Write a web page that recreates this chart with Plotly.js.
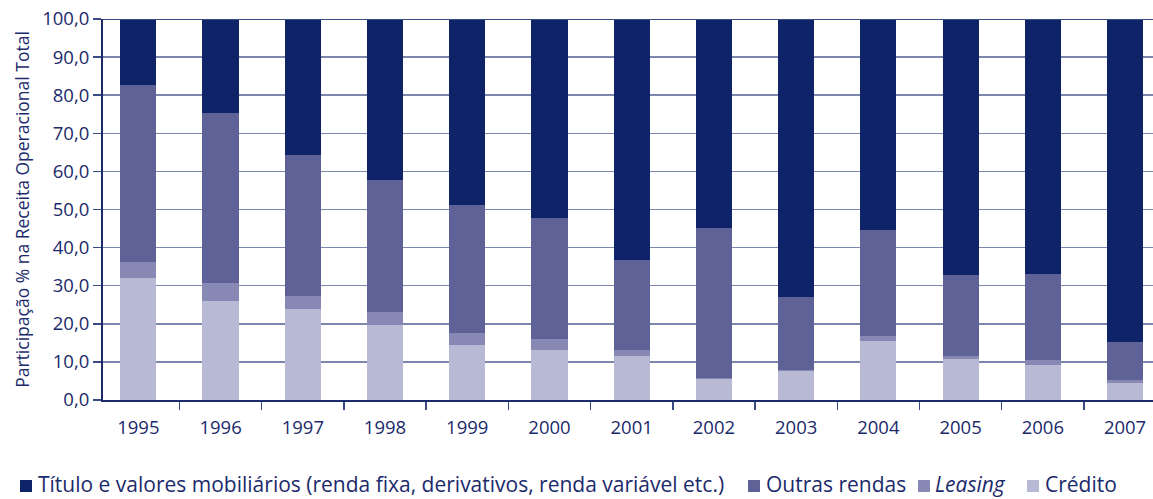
<!DOCTYPE html>
<html>
<head>
<meta charset="utf-8">
<script src="https://cdn.plot.ly/plotly-3.0.1.min.js"></script>
<style>html,body{margin:0;padding:0;background:#fff;}#chart{width:1153px;height:499px;}</style>
</head>
<body>
<div id="chart"></div>
<script>
const years = ['1995','1996','1997','1998','1999','2000','2001','2002','2003','2004','2005','2006','2007'];
const credito = [32.1, 26.1, 24.0, 19.7, 14.4, 13.1, 11.6, 5.4, 7.7, 15.6, 10.8, 9.3, 4.5];
const leasing = [4.0, 4.7, 3.4, 3.4, 3.3, 2.9, 1.5, 0.3, 0.3, 1.3, 0.8, 1.2, 0.8];
const outras = [46.6, 44.6, 37.0, 34.7, 33.5, 31.8, 23.7, 39.5, 19.1, 27.6, 21.2, 22.6, 9.9];
const titulos = [17.3, 24.6, 35.6, 42.2, 48.8, 52.2, 63.2, 54.8, 72.9, 55.5, 67.2, 66.9, 84.8];
const yTicks = [0,10,20,30,40,50,60,70,80,90,100];
const seriesNames = ['Título e valores mobiliários (renda fixa, derivativos, renda variável etc.)', 'Outras rendas', '<i>Leasing</i>', 'Crédito'];
const seriesColors = ['#0f2368', '#5e6297', '#8788b3', '#b8bad5'];
const seriesValues = [titulos, outras, leasing, credito];

const navy = '#1b2a6b';
const font = "'Open Sans', 'Noto Sans', sans-serif";

// stacking order: Crédito at bottom, then Leasing, Outras, Títulos
const data = [3, 2, 1, 0].map(i => ({
  type: 'bar', x: years, y: seriesValues[i], name: seriesNames[i],
  marker: {color: seriesColors[i], line: {width: 0}},
  hoverinfo: 'y+name', showlegend: false
}));

// plot area geometry (pixels) used for the hand-placed legend
const L = 103, W = 1050, T = 19, H = 381;
const px2x = p => (p - L) / W;
const py2y = p => (T + H - p) / H;
const legendSquareX = [20, 748, 918, 1027];
const legendTextX = [37, 765, 934, 1044];
const legendY = 484;
const sq = 12;

const shapes = [{type: 'line', xref: 'paper', yref: 'y', x0: 0, x1: 1, y0: 100, y1: 100, line: {color: '#3a4a85', width: 2}}];
const annotations = [];
seriesNames.forEach((n, i) => {
  shapes.push({type: 'rect', xref: 'paper', yref: 'paper',
    x0: px2x(legendSquareX[i]), x1: px2x(legendSquareX[i] + sq),
    y0: py2y(legendY + 2 + sq / 2), y1: py2y(legendY + 2 - sq / 2),
    fillcolor: seriesColors[i], line: {width: 0}});
  annotations.push({xref: 'paper', yref: 'paper', x: px2x(legendTextX[i]), y: py2y(legendY),
    xanchor: 'left', yanchor: 'middle', text: n, showarrow: false, borderpad: 0,
    font: {size: 21, color: navy, family: font}});
});

const layout = {
  width: 1153, height: 499,
  margin: {l: L, r: 1153 - L - W, t: T, b: 499 - T - H},
  paper_bgcolor: '#fff', plot_bgcolor: '#fff',
  barmode: 'stack', bargap: 0.56,
  separators: ',.',
  font: {family: font, color: navy, size: 15},
  xaxis: {
    type: 'category', range: [-0.43, 12.34],
    showline: true, linecolor: navy, linewidth: 2,
    ticks: 'outside', tickson: 'boundaries', ticklen: 8, tickcolor: '#3a4a85', tickwidth: 1.5,
    ticklabelstandoff: 10,
    tickfont: {size: 18.5, color: navy, family: font},
    showgrid: false, zeroline: false, fixedrange: true
  },
  yaxis: {
    range: [0, 100], tickvals: yTicks, tickformat: '.1f',
    showline: true, linecolor: navy, linewidth: 2,
    ticks: 'outside', ticklen: 8, tickcolor: '#3a4a85', tickwidth: 1.5,
    ticklabelstandoff: 0,
    tickfont: {size: 18.5, color: navy, family: font},
    showgrid: true, gridcolor: '#7d86ad', gridwidth: 1.5,
    zeroline: false,
    title: {text: 'Participação % na Receita Operacional Total', font: {size: 17.5, color: navy, family: font}, standoff: 8}
  },
  shapes: shapes,
  annotations: annotations,
  showlegend: false
};
Plotly.newPlot('chart', data, layout, {displayModeBar: false, staticPlot: true});
</script>
</body>
</html>
